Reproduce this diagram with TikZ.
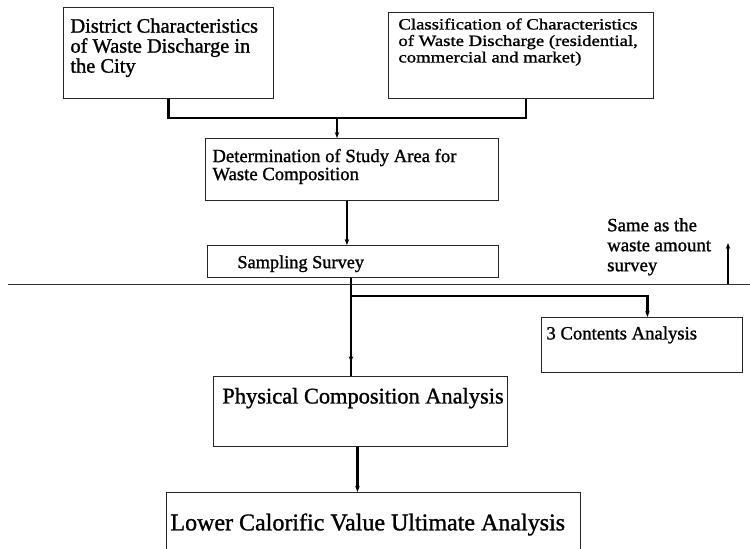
\documentclass[tikz,border=0pt]{standalone}
\usepackage{fontspec}
\setmainfont{Liberation Serif}[FakeBold=1.2]
\newfontfamily\widefont{Liberation Serif}[FakeStretch=1.2,FakeBold=1.2]
\usetikzlibrary{arrows.meta,decorations.markings}

% top-aligned text block of fixed size
\newcommand\tbox[3]{\parbox[c][#2][t]{#1}{\raggedright #3}}

\tikzset{
  box/.style={draw=black!85, line width=0.9pt, anchor=north west, inner sep=0pt},
  conn/.style={draw=black, line width=2.2pt},
  arr/.style={-{Stealth[length=6pt,width=4.5pt]}},
  midarrow/.style={postaction={decorate},
    decoration={markings, mark=at position 0.86 with {\arrow{Stealth[length=6pt,width=4.5pt]}}}},
  rule/.style={draw=black!80, line width=0.8pt},
}

\begin{document}
\begin{tikzpicture}[x=1pt,y=-1pt]
\useasboundingbox[fill=white] (0,0) rectangle (750,549);

% boxes
\node[box, inner xsep=7pt, inner ysep=11pt] (b1) at (63,7)
  {\tbox{196pt}{69pt}{\fontsize{20.4}{20}\selectfont District Characteristics\\ of Waste Discharge in\\ the City}};
\node[box, inner xsep=10pt, inner ysep=6pt] (b2) at (388,12)
  {\tbox{245pt}{74pt}{\widefont\fontsize{15.6}{16.5}\selectfont Classification of Characteristics\\ of Waste Discharge (residential,\\ commercial and market)}};
\node[box, inner xsep=7pt, inner ysep=10.5pt] (b3) at (205,138)
  {\tbox{279pt}{41pt}{\fontsize{18.7}{18}\selectfont Determination of Study Area for\\ Waste Composition}};
\node[box, inner xsep=30pt, inner ysep=10pt] (b4) at (207,245)
  {\tbox{231pt}{12pt}{\fontsize{18.3}{18}\selectfont Sampling Survey}};
\node[box, inner xsep=5pt, inner ysep=9pt] (c3) at (541,317)
  {\tbox{191pt}{37pt}{\fontsize{18.7}{18.5}\selectfont 3 Contents Analysis}};
\node[box, inner xsep=9pt, inner ysep=11.5pt] (b5) at (213,376)
  {\tbox{276pt}{47pt}{\fontsize{22.4}{24}\selectfont \mbox{Physical Composition Analysis}}};
\node[box, inner xsep=4pt, inner ysep=21pt] (b6) at (166,492)
  {\tbox{406pt}{31pt}{\fontsize{24}{25}\selectfont \mbox{Lower Calorific Value Ultimate Analysis}}};

% side note
\node[anchor=north west, inner sep=0pt] (sa) at (607,218)
  {\tbox{125pt}{60pt}{\fontsize{18.8}{20}\selectfont Same as the\\ waste amount\\ survey}};

% horizontal rule across the sheet
\coordinate (rl) at (8,284);
\coordinate (rr) at (750,284);
\draw[rule] (rl) -- (rr);

% connectors
\coordinate (j) at (337,118);
\draw[conn] (b1.south) |- (j) -| ([xshift=5pt]b2.south);
\draw[conn,arr] (j) -- (j |- b3.north);
\draw[conn,arr] ([xshift=-5pt]b3.south) -- ([xshift=-5pt]b3.south |- b4.north);
\draw[conn,midarrow] ([xshift=-2pt]b4.south) -- ([xshift=-2pt]b4.south |- b5.north);
\coordinate (br) at ([xshift=-2pt,yshift=-18pt]b4.south);
\draw[conn,arr] (br) -| ([xshift=5.5pt]c3.north);
\draw[conn,arr] ([xshift=-3pt]b5.south) -- ([xshift=-3pt]b5.south |- b6.north);
\coordinate (up) at (728,284);
\draw[conn,arr] (up) -- ++(0,-41);
\end{tikzpicture}
\end{document}
